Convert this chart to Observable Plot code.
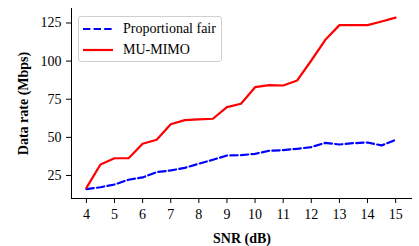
<!DOCTYPE html>
<html>
<head>
<meta charset="utf-8">
<script src="https://cdn.jsdelivr.net/npm/d3@7"></script>
<script src="https://cdn.jsdelivr.net/npm/@observablehq/plot@0.6"></script>
<style>
  html, body { margin: 0; padding: 0; background: #fff; }
  #wrap { position: relative; width: 419px; height: 246px; font-family: "Liberation Serif", "Times New Roman", serif; }
  #wrap svg { display: block; }
  #wrap svg, #wrap svg text { font-family: "Liberation Serif", "Times New Roman", serif !important; }
  g[aria-label="x-axis label"], g[aria-label="y-axis label"],
  g[aria-label="x-axis label"] text, g[aria-label="y-axis label"] text { font-weight: bold; }
  #legend {
    position: absolute; left: 78px; top: 16px; width: 144px; height: 46px;
    border: 1px solid #d0d0d0; border-radius: 3px; background: rgba(255,255,255,0.8);
    box-sizing: border-box; font-size: 14px; color: #000;
  }
  .row { position: absolute; left: 0; height: 16px; display: flex; align-items: center; }
  .row svg { margin-left: 4px; }
  .row span { margin-left: 10px; line-height: 16px; white-space: nowrap; }
</style>
</head>
<body>
<div id="wrap"></div>
<script>
const snr = [4, 4.5, 5, 5.5, 6, 6.5, 7, 7.5, 8, 8.5, 9, 9.5, 10, 10.5, 11, 11.5, 12, 12.5, 13, 13.5, 14, 14.5, 15];
const proportionalFair = [16, 17.3, 19.1, 22.2, 23.7, 27.2, 28.3, 30, 32.7, 35.3, 38.1, 38.3, 39.2, 41.2, 41.6, 42.5, 43.6, 46.4, 45.3, 46.2, 46.6, 44.7, 48.4];
const muMimo = [16.9, 32.2, 36.3, 36.3, 45.8, 48.4, 58.6, 61.3, 61.8, 62.2, 69.8, 72, 82.9, 84.2, 84, 87.3, 100.4, 114, 123.6, 123.6, 123.6, 126, 128.5];
const xTicks = [4, 5, 6, 7, 8, 9, 10, 11, 12, 13, 14, 15];
const yTicks = [25, 50, 75, 100, 125];
const seriesNames = ["Proportional fair", "MU-MIMO"];
const seriesColors = ["#0000ff", "#ff0000"];
const seriesDash = ["7.4,3.2", null];

const pfData = snr.map((s, i) => ({snr: s, rate: proportionalFair[i]}));
const muData = snr.map((s, i) => ({snr: s, rate: muMimo[i]}));
const xDomain = [3.47, 15.6];
const yDomain = [9.9, 134.5];

const chart = Plot.plot({
  width: 419,
  height: 246,
  marginLeft: 71,
  marginRight: 7,
  marginTop: 8,
  marginBottom: 48,
  style: {fontFamily: "Liberation Serif, serif", fontSize: "14px", background: "#fff", color: "#000"},
  x: {domain: xDomain},
  y: {domain: yDomain},
  marks: [
    Plot.ruleX([xDomain[0]], {stroke: "#000", strokeWidth: 1}),
    Plot.ruleY([yDomain[0]], {stroke: "#000", strokeWidth: 1}),
    Plot.axisX(xTicks, {tickSize: 5, tickPadding: 6, stroke: "#000", label: "SNR (dB)", labelAnchor: "center", labelOffset: 44, labelArrow: "none"}),
    Plot.axisY(yTicks, {tickSize: 5, tickPadding: 5, stroke: "#000", label: "Data rate (Mbps)", labelAnchor: "center", labelOffset: 53, labelArrow: "none"}),
    Plot.line(pfData, {x: "snr", y: "rate", stroke: seriesColors[0], strokeWidth: 2.2, strokeDasharray: seriesDash[0]}),
    Plot.line(muData, {x: "snr", y: "rate", stroke: seriesColors[1], strokeWidth: 2.2})
  ]
});
const wrap = document.getElementById("wrap");
wrap.appendChild(chart);

const legend = document.createElement("div");
legend.id = "legend";
seriesNames.forEach((name, i) => {
  const row = document.createElement("div");
  row.className = "row";
  row.style.top = (i === 0 ? 4 : 25) + "px";
  const dash = seriesDash[i] ? `stroke-dasharray="${seriesDash[i]}"` : "";
  row.innerHTML = `<svg width="30" height="16"><line x1="0" x2="30" y1="8" y2="8" stroke="${seriesColors[i]}" stroke-width="2.2" ${dash}/></svg><span>${name}</span>`;
  legend.appendChild(row);
});
wrap.appendChild(legend);
</script>
</body>
</html>
